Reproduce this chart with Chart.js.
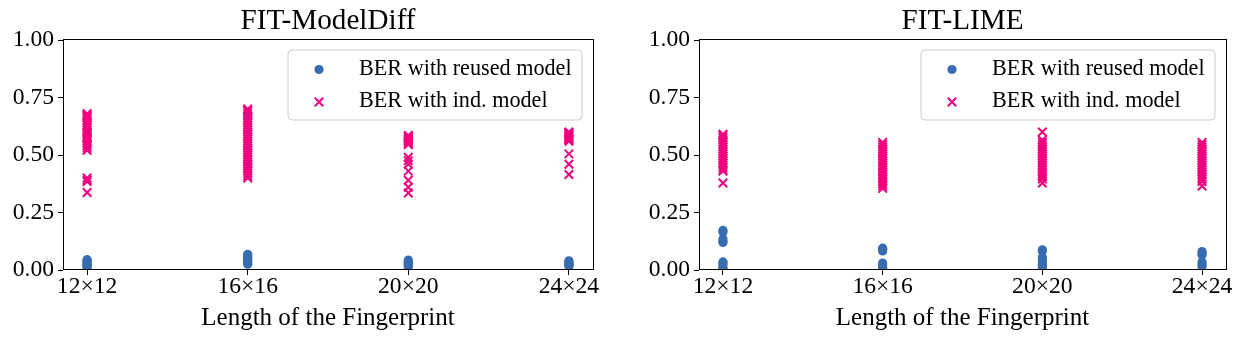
<!DOCTYPE html>
<html>
<head>
<meta charset="utf-8">
<script src="https://cdn.jsdelivr.net/npm/chart.js@4.4.1/dist/chart.umd.min.js"></script>
<style>
  html, body { margin: 0; padding: 0; background: #ffffff; }
  #wrap { position: relative; width: 1244px; height: 339px; background: #ffffff; overflow: hidden; }
  canvas { position: absolute; top: 0; }
</style>
</head>
<body>
<div id="wrap">
  <canvas id="c1" width="620" height="339" style="left:0px"></canvas>
  <canvas id="c2" width="624" height="339" style="left:620px"></canvas>
</div>
<script>
// ---------------- DATA ----------------
const categories = ['12×12', '16×16', '20×20', '24×24'];
const yTicks = [0, 0.25, 0.5, 0.75, 1.0];
const xAxisLabel = 'Length of the Fingerprint';
const seriesLabels = ['BER with reused model', 'BER with ind. model'];
const titleLeft = 'FIT-ModelDiff';
const titleRight = 'FIT-LIME';

// FIT-ModelDiff: BER with reused model (one list per category)
const mdReused12 = [0.045, 0.04, 0.035, 0.03, 0.025, 0.02, 0.015, 0.01];
const mdReused16 = [0.068, 0.062, 0.056, 0.05, 0.045, 0.04, 0.035, 0.03, 0.025];
const mdReused20 = [0.043, 0.038, 0.033, 0.028, 0.023, 0.018, 0.014];
const mdReused24 = [0.04, 0.035, 0.03, 0.025, 0.02, 0.016];
// FIT-ModelDiff: BER with independent model
const mdInd12 = [0.68, 0.675, 0.67, 0.665, 0.66, 0.65, 0.64, 0.63, 0.62, 0.61, 0.60, 0.595, 0.59, 0.58, 0.575, 0.57, 0.56, 0.55, 0.54, 0.53, 0.52, 0.40, 0.39, 0.385, 0.337];
const mdInd16 = [0.70, 0.695, 0.69, 0.68, 0.67, 0.66, 0.65, 0.64, 0.63, 0.62, 0.61, 0.60, 0.59, 0.58, 0.57, 0.56, 0.55, 0.54, 0.53, 0.52, 0.51, 0.50, 0.49, 0.48, 0.47, 0.46, 0.45, 0.44, 0.43, 0.42, 0.41, 0.40];
const mdInd20 = [0.585, 0.58, 0.575, 0.57, 0.565, 0.56, 0.555, 0.55, 0.545, 0.49, 0.475, 0.46, 0.43, 0.39, 0.36, 0.335];
const mdInd24 = [0.60, 0.595, 0.59, 0.585, 0.58, 0.575, 0.57, 0.565, 0.56, 0.505, 0.46, 0.415];

// FIT-LIME: BER with reused model
const limeReused12 = [0.172, 0.165, 0.135, 0.125, 0.12, 0.035, 0.03, 0.02, 0.01, 0.005];
const limeReused16 = [0.095, 0.09, 0.083, 0.03, 0.02, 0.01, 0.005];
const limeReused20 = [0.088, 0.083, 0.055, 0.045, 0.035, 0.025, 0.015, 0.005];
const limeReused24 = [0.08, 0.072, 0.065, 0.035, 0.025, 0.015];
// FIT-LIME: BER with independent model
const limeInd12 = [0.59, 0.585, 0.575, 0.565, 0.555, 0.545, 0.535, 0.525, 0.515, 0.505, 0.495, 0.485, 0.475, 0.465, 0.455, 0.445, 0.435, 0.43, 0.378];
const limeInd16 = [0.555, 0.545, 0.535, 0.525, 0.515, 0.505, 0.495, 0.485, 0.475, 0.465, 0.455, 0.445, 0.435, 0.425, 0.415, 0.405, 0.395, 0.385, 0.375, 0.365, 0.355];
const limeInd20 = [0.60, 0.565, 0.555, 0.545, 0.535, 0.525, 0.515, 0.505, 0.495, 0.485, 0.475, 0.465, 0.455, 0.445, 0.435, 0.425, 0.415, 0.405, 0.395, 0.378];
const limeInd24 = [0.555, 0.545, 0.535, 0.525, 0.515, 0.505, 0.495, 0.485, 0.475, 0.465, 0.455, 0.445, 0.435, 0.425, 0.415, 0.405, 0.395, 0.385, 0.365];

// ---------------- STYLE ----------------
const BLUE = '#386cb0';
const PINK = '#f0027f';
const SERIF = '"Liberation Serif", "Times New Roman", "DejaVu Serif", serif';

function toPoints(lists) {
  const pts = [];
  lists.forEach((vals, i) => vals.forEach(v => pts.push({ x: i, y: v })));
  return pts;
}

const framePlugin = {
  id: 'frame',
  afterDraw(chart) {
    const { ctx, chartArea: a } = chart;
    ctx.save();
    ctx.strokeStyle = '#000';
    ctx.lineWidth = 1;
    ctx.strokeRect(Math.round(a.left) + 0.5, Math.round(a.top) - 0.5, Math.round(a.right - a.left), Math.round(a.bottom - a.top));
    ctx.restore();
  }
};

const legendPlugin = {
  id: 'boxLegend',
  afterDraw(chart) {
    const { ctx, chartArea: a } = chart;
    const x0 = a.right - 305, y0 = a.top + 10, w = 294, h = 70, r = 4;
    ctx.save();
    ctx.beginPath();
    ctx.moveTo(x0 + r, y0);
    ctx.lineTo(x0 + w - r, y0);
    ctx.quadraticCurveTo(x0 + w, y0, x0 + w, y0 + r);
    ctx.lineTo(x0 + w, y0 + h - r);
    ctx.quadraticCurveTo(x0 + w, y0 + h, x0 + w - r, y0 + h);
    ctx.lineTo(x0 + r, y0 + h);
    ctx.quadraticCurveTo(x0, y0 + h, x0, y0 + h - r);
    ctx.lineTo(x0, y0 + r);
    ctx.quadraticCurveTo(x0, y0, x0 + r, y0);
    ctx.closePath();
    ctx.fillStyle = 'rgba(255,255,255,0.8)';
    ctx.fill();
    ctx.strokeStyle = '#cccccc';
    ctx.lineWidth = 1;
    ctx.stroke();

    const mx = a.right - 274;
    const my1 = a.top + 29.5, my2 = a.top + 62;
    ctx.beginPath();
    ctx.arc(mx, my1, 4.6, 0, Math.PI * 2);
    ctx.fillStyle = BLUE;
    ctx.fill();
    const d = 4.2;
    ctx.beginPath();
    ctx.moveTo(mx - d, my2 - d); ctx.lineTo(mx + d, my2 + d);
    ctx.moveTo(mx - d, my2 + d); ctx.lineTo(mx + d, my2 - d);
    ctx.strokeStyle = PINK;
    ctx.lineWidth = 2;
    ctx.stroke();

    ctx.fillStyle = '#000';
    ctx.font = '22.2px ' + SERIF;
    ctx.textBaseline = 'alphabetic';
    ctx.textAlign = 'left';
    ctx.fillText(seriesLabels[0], a.right - 234, a.top + 35);
    ctx.fillText(seriesLabels[1], a.right - 234, a.top + 66.5);
    ctx.restore();
  }
};

function makeChart(id, title, reusedLists, indLists, yWidth, rightPad) {
  const tickFont = { family: SERIF, size: 23.6, lineHeight: 1.2 };
  return new Chart(document.getElementById(id), {
    type: 'scatter',
    data: {
      datasets: [
        { label: seriesLabels[0], data: toPoints(reusedLists), pointStyle: 'circle', pointRadius: 4.6,
          backgroundColor: BLUE, borderColor: BLUE, borderWidth: 0, clip: 0 },
        { label: seriesLabels[1], data: toPoints(indLists), pointStyle: 'crossRot', pointRadius: 6.0,
          backgroundColor: PINK, borderColor: PINK, borderWidth: 2, clip: 0 }
      ]
    },
    options: {
      responsive: false,
      animation: false,
      events: [],
      layout: { padding: { left: 0, right: rightPad, top: 0, bottom: 0 } },
      plugins: {
        legend: { display: false },
        tooltip: { enabled: false },
        title: {
          display: true, text: title, fullSize: false, color: '#000',
          font: { family: SERIF, size: 29.2, weight: 'normal', lineHeight: '35px' },
          padding: { top: 4, bottom: 1 }
        }
      },
      scales: {
        x: {
          type: 'linear', min: -0.15, max: 3.15,
          afterBuildTicks: s => { s.ticks = categories.map((c, i) => ({ value: i })); },
          afterFit: s => { s.height = 69; },
          ticks: { callback: v => categories[v], font: tickFont, color: '#000', padding: -2, maxRotation: 0, autoSkip: false },
          grid: { drawOnChartArea: false, drawTicks: true, tickLength: 5, color: '#000' },
          border: { display: false },
          title: { display: true, text: xAxisLabel, color: '#000',
                   font: { family: SERIF, size: 25, lineHeight: 1.2 }, padding: { top: 0, bottom: 6 } }
        },
        y: {
          type: 'linear', min: 0, max: 1,
          afterBuildTicks: s => { s.ticks = yTicks.map(v => ({ value: v })); },
          afterFit: s => { s.width = yWidth; },
          ticks: { callback: v => Number(v).toFixed(2), font: tickFont, color: '#000', padding: 4 },
          grid: { drawOnChartArea: false, drawTicks: true, tickLength: 5, color: '#000' },
          border: { display: false }
        }
      }
    },
    plugins: [framePlugin, legendPlugin]
  });
}

makeChart('c1', titleLeft, [mdReused12, mdReused16, mdReused20, mdReused24], [mdInd12, mdInd16, mdInd20, mdInd24], 63, 27);
makeChart('c2', titleRight, [limeReused12, limeReused16, limeReused20, limeReused24], [limeInd12, limeInd16, limeInd20, limeInd24], 79, 18);
</script>
</body>
</html>
